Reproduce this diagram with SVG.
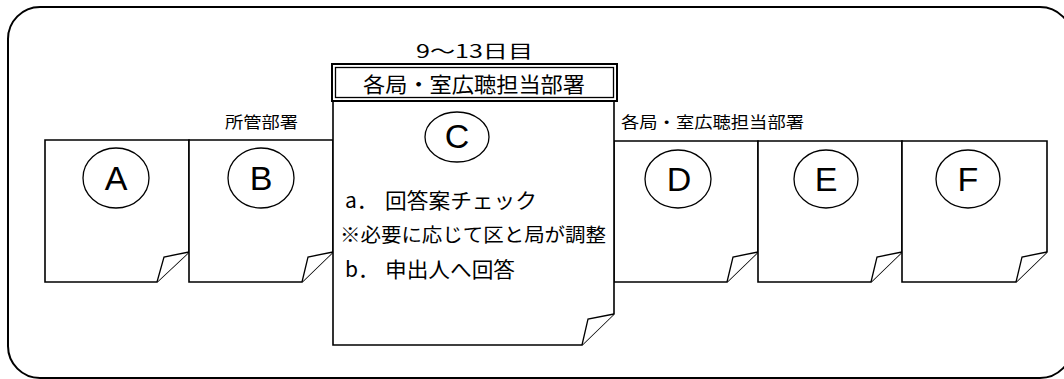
<svg xmlns="http://www.w3.org/2000/svg" width="1064" height="379" viewBox="0 0 1064 379">
<style>
.frame{fill:none;stroke:#000;stroke-width:2}
.note{fill:#fff;stroke:#000;stroke-width:1.6;stroke-linejoin:miter}
.flap{fill:#fff;stroke:#000;stroke-width:1.3;stroke-linejoin:miter}
.circ{fill:#fff;stroke:#000;stroke-width:1.3}
.big{font-family:"Liberation Sans",Arial,sans-serif;font-size:34px;fill:#000;text-anchor:middle}
.jp{font-family:"Noto Sans CJK JP","Noto Sans CJK SC",sans-serif;fill:#000}
</style>
<rect class="frame" x="8" y="7" width="1064" height="371" rx="32" ry="32"/>
<g id="labels">
<text class="jp" x="225" y="128" font-size="16" textLength="73" lengthAdjust="spacingAndGlyphs">所管部署</text>
<text class="jp" x="621" y="128" font-size="16" textLength="183" lengthAdjust="spacingAndGlyphs">各局・室広聴担当部署</text>
<text class="jp" x="416" y="58" font-size="18" textLength="117" lengthAdjust="spacingAndGlyphs">9～13日目</text>
</g>
<g id="nodeA">
<path class="note" d="M45,140 H189 V252 L157,282 H45 Z"/>
<path class="flap" d="M157,282 L164,257 L189,252"/>
<ellipse class="circ" cx="116" cy="178" rx="33" ry="30"/>
<text class="big" x="116" y="190">A</text>
</g>
<g id="nodeB">
<path class="note" d="M189,140 H333 V252 L302,282 H189 Z"/>
<path class="flap" d="M302,282 L308,257 L333,252"/>
<ellipse class="circ" cx="261" cy="178" rx="33" ry="30"/>
<text class="big" x="261" y="190">B</text>
</g>
<g id="nodeD">
<path class="note" d="M614,141 H758 V252 L727,282 H614 Z"/>
<path class="flap" d="M727,282 L733,257 L758,252"/>
<ellipse class="circ" cx="678" cy="179" rx="33" ry="29"/>
<text class="big" x="679" y="191">D</text>
</g>
<g id="nodeE">
<path class="note" d="M758,141 H902 V252 L871,282 H758 Z"/>
<path class="flap" d="M871,282 L877,257 L902,252"/>
<ellipse class="circ" cx="826" cy="179" rx="32" ry="29"/>
<text class="big" x="826" y="191">E</text>
</g>
<g id="nodeF">
<path class="note" d="M902,141 H1047 V252 L1016,282 H902 Z"/>
<path class="flap" d="M1016,282 L1022,257 L1047,252"/>
<ellipse class="circ" cx="968" cy="179" rx="32" ry="29"/>
<text class="big" x="968" y="191">F</text>
</g>
<g id="nodeC">
<path class="note" d="M333,100 H614 V314 L582,345 H333 Z"/>
<path class="flap" d="M582,345 L588,319 L614,314"/>
<rect x="332" y="64" width="285" height="37" fill="#fff" stroke="#000" stroke-width="2"/>
<rect x="335.5" y="67.5" width="278" height="30" fill="none" stroke="#000" stroke-width="1.3"/>
<text class="jp" x="363" y="92" font-size="21" textLength="222" lengthAdjust="spacingAndGlyphs">各局・室広聴担当部署</text>
<ellipse class="circ" cx="457" cy="137" rx="32" ry="25"/>
<text class="big" x="457" y="148" font-size="30">C</text>
<text class="jp" font-size="21" y="208"><tspan x="345">a．</tspan><tspan x="385" textLength="152" lengthAdjust="spacingAndGlyphs">回答案チェック</tspan></text>
<text class="jp" x="340" y="242" font-size="19" textLength="266" lengthAdjust="spacingAndGlyphs">※必要に応じて区と局が調整</text>
<text class="jp" font-size="21" y="277"><tspan x="345">b．</tspan><tspan x="385" textLength="130" lengthAdjust="spacingAndGlyphs">申出人へ回答</tspan></text>
</g>
</svg>
